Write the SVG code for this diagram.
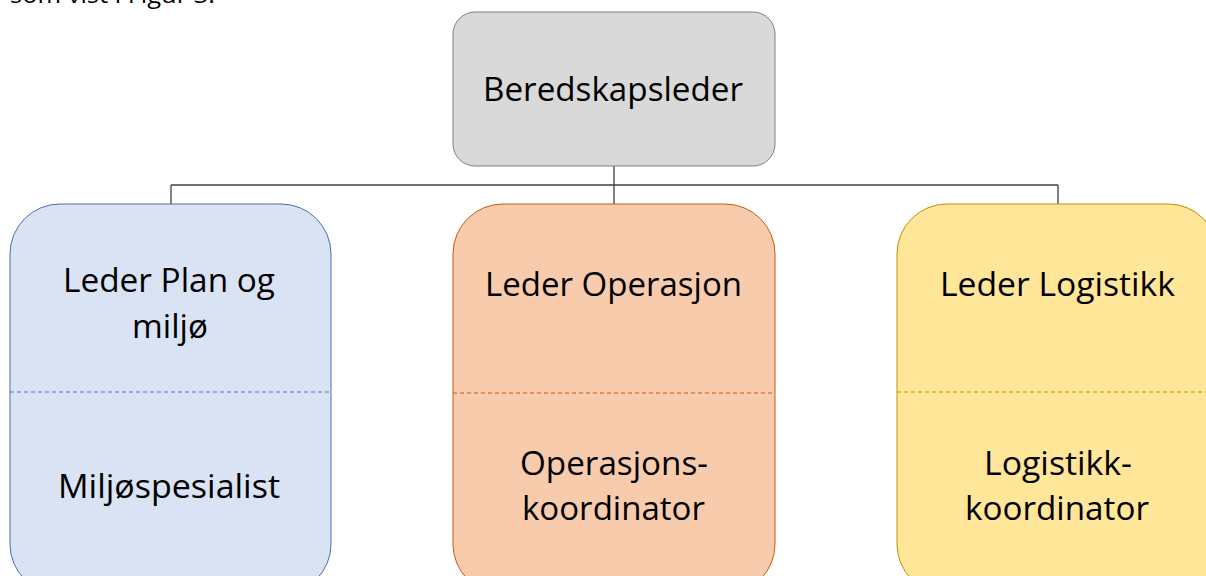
<svg xmlns="http://www.w3.org/2000/svg" width="1206" height="576" viewBox="0 0 1206 576">
<style>
text{font-family:"Open Sans","Noto Sans","Liberation Sans",sans-serif;font-size:33px;fill:#000;text-anchor:middle}
.conn{stroke:#404040;stroke-width:1.3;fill:none}
.dash{stroke-width:1;stroke-dasharray:4 3;fill:none}
</style>
<rect width="1206" height="576" fill="#fff"/>
<text x="10" y="3" style="text-anchor:start;font-size:24px" textLength="205" lengthAdjust="spacingAndGlyphs">som vist i Figur 3.</text>
<g id="connectors">
<line class="conn" x1="614" y1="166" x2="614" y2="204"/>
<line class="conn" x1="171" y1="185" x2="1058" y2="185" stroke="#6f6f6f"/>
<line class="conn" x1="171" y1="185" x2="171" y2="204"/>
<line class="conn" x1="1058" y1="185" x2="1058" y2="204"/>
</g>
<g id="beredskapsleder">
<rect x="453" y="12" width="322" height="154" rx="22" fill="#d9d9d9" stroke="#7f7f7f" stroke-width="1"/>
<text x="613" y="101" textLength="260" lengthAdjust="spacingAndGlyphs">Beredskapsleder</text>
</g>
<g id="plan">
<rect x="10" y="204" width="321" height="390" rx="50" fill="#dae3f3" stroke="#4a6fb0" stroke-width="1"/>
<line class="dash" x1="10" y1="392" x2="331" y2="392" stroke="#4472c4"/>
<text x="169" y="292" textLength="212" lengthAdjust="spacingAndGlyphs">Leder Plan og</text>
<text x="170" y="338" textLength="76" lengthAdjust="spacingAndGlyphs">miljø</text>
<text x="169" y="498" textLength="222" lengthAdjust="spacingAndGlyphs">Miljøspesialist</text>
</g>
<g id="operasjon">
<rect x="453" y="204" width="322" height="390" rx="50" fill="#f8cbad" stroke="#c55a11" stroke-width="1"/>
<line class="dash" x1="453" y1="393" x2="775" y2="393" stroke="#c55a11"/>
<text x="613.5" y="296" textLength="257" lengthAdjust="spacingAndGlyphs">Leder Operasjon</text>
<text x="614" y="475" textLength="188" lengthAdjust="spacingAndGlyphs">Operasjons-</text>
<text x="613.5" y="520" textLength="183" lengthAdjust="spacingAndGlyphs">koordinator</text>
</g>
<g id="logistikk">
<rect x="897" y="204" width="321" height="390" rx="50" fill="#ffe699" stroke="#bf9000" stroke-width="1"/>
<line class="dash" x1="897" y1="392" x2="1218" y2="392" stroke="#bf9000"/>
<text x="1057.5" y="296" textLength="235" lengthAdjust="spacingAndGlyphs">Leder Logistikk</text>
<text x="1058" y="475" textLength="148" lengthAdjust="spacingAndGlyphs">Logistikk-</text>
<text x="1057" y="520" textLength="184" lengthAdjust="spacingAndGlyphs">koordinator</text>
</g>
</svg>
